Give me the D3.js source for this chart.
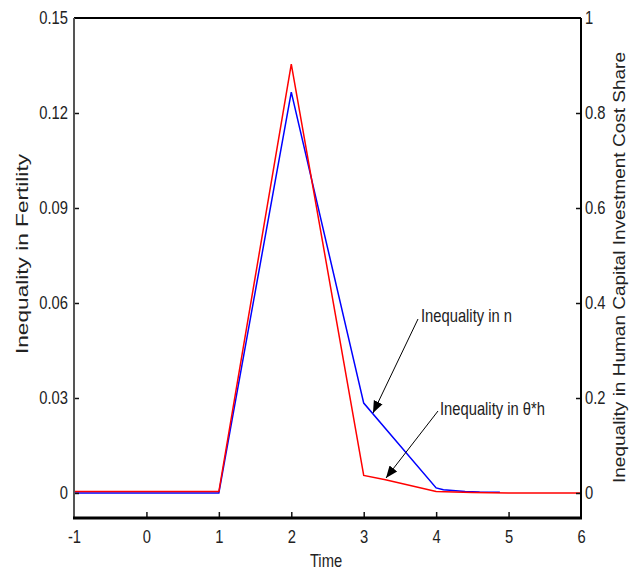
<!DOCTYPE html>
<html>
<head>
<meta charset="utf-8">
<script src="https://cdn.jsdelivr.net/npm/d3@7.9.0/dist/d3.min.js"></script>
<style>
  body { margin: 0; background: #fff; }
  text { font-family: "Liberation Sans", Arial, sans-serif; fill: #222; }
</style>
</head>
<body>
<svg id="chart" width="639" height="573"></svg>
<script>
// time axis
const xTicks = [-1, 0, 1, 2, 3, 4, 5, 6];
const leftTicks = [0, 0.03, 0.06, 0.09, 0.12, 0.15];
const rightTicks = [0, 0.2, 0.4, 0.6, 0.8, 1];

// inequality in n (left axis)
const nTime = [-1, 0, 1, 2, 3, 4, 4.1, 4.4, 4.6, 4.88];
const nValues = [0, 0, 0, 0.1266, 0.0284, 0.0016, 0.001, 0.0005, 0.0003, 0.0002];

// inequality in theta*h (right axis)
const hTime = [-1, 0, 1, 2, 3, 3.3, 4, 4.5, 5, 6];
const hValues = [0.003, 0.003, 0.003, 0.903, 0.037, 0.028, 0.003, 0.001, 0, 0];

const svg = d3.select('#chart');
const pLeft = 74, pRight = 581, pTop = 18, pBottom = 518;
const squeeze = 0.82; // the original uses a narrow face

const x = d3.scaleLinear().domain([-1, 6]).range([pLeft, pRight]);
const yL = d3.scaleLinear().domain([-0.0079, 0.15]).range([pBottom, pTop]);
const yR = d3.scaleLinear().domain([-0.0526, 1]).range([pBottom, pTop]);

// lines
const nLine = d3.line().x((d, i) => x(nTime[i])).y(d => yL(d));
const hLine = d3.line().x((d, i) => x(hTime[i])).y(d => yR(d));

svg.append('path').attr('d', nLine(nValues))
  .attr('fill', 'none').attr('stroke', '#0000ff').attr('stroke-width', 1.5);
svg.append('path').attr('d', hLine(hValues))
  .attr('fill', 'none').attr('stroke', '#ff0000').attr('stroke-width', 1.5);

// axes
const bottomAxis = d3.axisBottom(x).tickValues(xTicks).tickSize(-6).tickPadding(12).tickFormat(d => String(d));
const leftAxis = d3.axisLeft(yL).tickValues(leftTicks).tickSize(-5).tickPadding(6)
  .tickFormat(d => d === 0 ? '0' : d3.format('.2f')(d));
const rightAxis = d3.axisRight(yR).tickValues(rightTicks).tickSize(-5).tickPadding(4)
  .tickFormat(d => d === 0 || d === 1 ? String(d) : d3.format('.1f')(d));

const gB = svg.append('g').attr('transform', `translate(0,${pBottom})`).call(bottomAxis);
const gL = svg.append('g').attr('transform', `translate(${pLeft},0)`).call(leftAxis);
const gR = svg.append('g').attr('transform', `translate(${pRight},0)`).call(rightAxis);

[gB, gL, gR].forEach(g => {
  g.attr('font-family', null).attr('font-size', null);
  g.select('.domain').remove();
  g.selectAll('.tick line').attr('stroke', '#111').attr('stroke-width', 1.5);
  g.selectAll('.tick text').attr('font-size', 18).attr('fill', '#222')
    .each(function() {
      const t = d3.select(this);
      t.attr('x', (+t.attr('x') || 0) / squeeze).attr('transform', `scale(${squeeze},1)`);
    });
});
gB.selectAll('.tick').filter(d => d === -1 || d === 6).select('line').remove();
gL.selectAll('.tick').filter(d => d === 0.15).select('line').remove();
gR.selectAll('.tick').filter(d => d === 1).select('line').remove();

// frame
svg.append('line').attr('x1', pLeft).attr('x2', pRight).attr('y1', pTop).attr('y2', pTop)
  .attr('stroke', '#000').attr('stroke-width', 2);
svg.append('line').attr('x1', pRight).attr('x2', pRight).attr('y1', pTop).attr('y2', pBottom)
  .attr('stroke', '#000').attr('stroke-width', 2);
svg.append('line').attr('x1', pLeft).attr('x2', pLeft).attr('y1', pTop).attr('y2', pBottom)
  .attr('stroke', '#555').attr('stroke-width', 2);
svg.append('line').attr('x1', pLeft - 1).attr('x2', pRight + 1).attr('y1', pBottom).attr('y2', pBottom)
  .attr('stroke', '#000').attr('stroke-width', 3);

// axis titles
svg.append('text').attr('transform', `translate(326,567) scale(${squeeze},1)`).attr('text-anchor', 'middle')
  .attr('font-size', 18).text('Time');
svg.append('text').attr('transform', 'translate(28,254) rotate(-90)').attr('text-anchor', 'middle')
  .attr('font-size', 16.5).attr('textLength', 200).attr('lengthAdjust', 'spacingAndGlyphs')
  .text('Inequality in Fertility');
svg.append('text').attr('transform', 'translate(625,267.5) rotate(-90)').attr('text-anchor', 'middle')
  .attr('font-size', 17).attr('textLength', 431).attr('lengthAdjust', 'spacingAndGlyphs')
  .text('Inequality in Human Capital Investment Cost Share');

// annotations
svg.append('defs').append('marker').attr('id', 'arrow')
  .attr('viewBox', '0 0 10 10').attr('refX', 10).attr('refY', 5)
  .attr('markerWidth', 12).attr('markerHeight', 12).attr('markerUnits', 'userSpaceOnUse')
  .attr('orient', 'auto')
  .append('path').attr('d', 'M0,1 L10,5 L0,9 Z').attr('fill', '#000');

svg.append('line').attr('x1', 418).attr('y1', 319).attr('x2', 373).attr('y2', 413)
  .attr('stroke', '#000').attr('stroke-width', 1).attr('marker-end', 'url(#arrow)');
svg.append('text').attr('transform', `translate(421,322) scale(${squeeze},1)`)
  .attr('font-size', 18).text('Inequality in n');

svg.append('line').attr('x1', 438).attr('y1', 411).attr('x2', 386).attr('y2', 478)
  .attr('stroke', '#000').attr('stroke-width', 1).attr('marker-end', 'url(#arrow)');
svg.append('text').attr('transform', `translate(440,415) scale(${squeeze},1)`)
  .attr('font-size', 18).text('Inequality in θ*h');
</script>
</body>
</html>
